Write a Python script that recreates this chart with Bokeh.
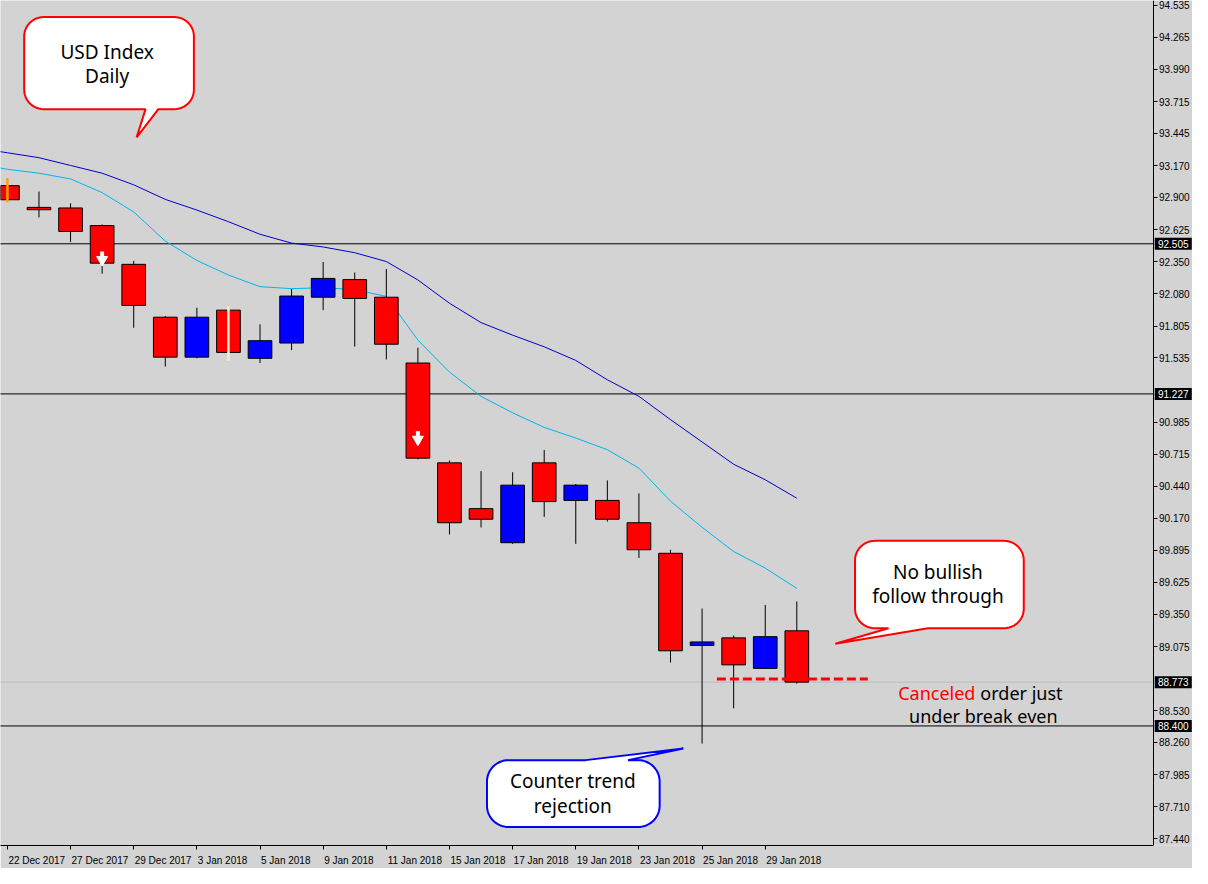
import math
from bokeh.plotting import figure
from bokeh.models import Range1d, FixedTicker, PrintfTickFormatter
from bokeh.core.properties import value
from bokeh.embed import file_html
from bokeh.resources import INLINE

# ---------------- data ----------------
dates = ["22 Dec 2017", "26 Dec 2017", "27 Dec 2017", "28 Dec 2017", "29 Dec 2017",
         "2 Jan 2018", "3 Jan 2018", "4 Jan 2018", "5 Jan 2018", "8 Jan 2018",
         "9 Jan 2018", "10 Jan 2018", "11 Jan 2018", "12 Jan 2018", "15 Jan 2018",
         "16 Jan 2018", "17 Jan 2018", "18 Jan 2018", "19 Jan 2018", "22 Jan 2018",
         "23 Jan 2018", "24 Jan 2018", "25 Jan 2018", "26 Jan 2018", "29 Jan 2018",
         "30 Jan 2018"]
opens = [93.00, 92.815, 92.81, 92.66, 92.33, 91.88, 91.54, 91.94, 91.53, 91.66,
         92.05, 92.20, 92.05, 91.49, 90.64, 90.25, 89.96, 90.64, 90.32, 90.32,
         90.13, 89.87, 89.085, 89.15, 88.89, 89.21]
highs = [93.06, 92.95, 92.85, 92.67, 92.36, 91.89, 91.96, 91.98, 91.82, 92.12,
         92.35, 92.26, 92.29, 91.62, 90.66, 90.57, 90.56, 90.75, 90.46, 90.49,
         90.38, 89.90, 89.40, 89.17, 89.43, 89.46]
lows = [92.86, 92.73, 92.52, 92.25, 91.79, 91.46, 91.53, 91.50, 91.49, 91.60,
        91.94, 91.63, 91.52, 90.67, 90.03, 90.09, 89.95, 90.18, 89.95, 90.14,
        89.83, 88.94, 88.25, 88.55, 88.89, 88.76]
closes = [92.88, 92.795, 92.61, 92.34, 91.98, 91.54, 91.88, 91.58, 91.68, 92.06,
          92.21, 92.04, 91.65, 90.68, 90.13, 90.16, 90.45, 90.31, 90.45, 90.16,
          89.90, 89.04, 89.115, 88.92, 89.16, 88.773]
# moving averages, starting one bar before the first visible candle
ma_slow = [93.321, 93.280, 93.238, 93.172, 93.106, 93.007, 92.883, 92.792, 92.693,
           92.586, 92.511, 92.478, 92.429, 92.354, 92.197, 91.999, 91.834, 91.727,
           91.628, 91.512, 91.347, 91.206, 91.008, 90.818, 90.628, 90.496, 90.339]
ma_fast = [93.189, 93.139, 93.106, 93.057, 92.941, 92.776, 92.528, 92.363, 92.239,
           92.140, 92.123, 92.131, 92.115, 92.057, 91.685, 91.413, 91.206, 91.066,
           90.942, 90.851, 90.752, 90.595, 90.314, 90.091, 89.885, 89.744, 89.571]
levels = [92.505, 91.227, 88.400]
last_close = 88.773
order_level = 88.80
signal_bars = [3, 13]
signal_prices = [92.39, 90.86]
y_ticks = [94.535, 94.265, 93.990, 93.715, 93.445, 93.170, 92.900, 92.625, 92.350,
           92.080, 91.805, 91.535, 90.985, 90.715, 90.440, 90.170, 89.895, 89.625,
           89.350, 89.075, 88.530, 88.260, 87.985, 87.710, 87.440]

# ---------------- layout helpers (reference pixel -> data) ----------------
BAR_PX = 32.0
X0_PX = 7.0
PX_PER_UNIT = 121.07


def X(px):
    return (px - X0_PX) / BAR_PX


def Y(py):
    return 94.535 - (py - 5.0) / PX_PER_UNIT


BG = "#D3D3D3"
W, H = 1192, 868
X_AX = X(1168)          # where the price scale sits
p = figure(width=W, height=H, x_range=Range1d(X(0), X(1208)),
           y_range=Range1d(Y(871), Y(0)), y_axis_location="right",
           output_backend="svg", toolbar_location=None,
           background_fill_color=BG, border_fill_color=BG,
           min_border_left=0, min_border_top=0, min_border_right=0,
           min_border_bottom=0, outline_line_color=None)
p.grid.visible = False

AX_FONT = "Liberation Sans"
AX_SIZE = 10

# y axis (price scale drawn at the right edge of the chart area)
ya = p.yaxis[0]
ya.fixed_location = X_AX
ya.ticker = FixedTicker(ticks=y_ticks, minor_ticks=[])
ya.formatter = PrintfTickFormatter(format="%.3f")
ya.axis_line_color = "black"
ya.major_tick_line_color = "black"
ya.major_tick_out = 4
ya.major_tick_in = 0
ya.minor_tick_line_color = None
ya.major_label_standoff = 2
ya.major_label_text_font = AX_FONT
ya.major_label_text_font_size = f"{AX_SIZE}px"
ya.major_label_text_color = "black"

# x axis: labels start at the candle (MT4 style)
cw = {"D": .722, "J": .5, "e": .556, "c": .5, "a": .556, "n": .556, " ": .278}


def text_w(t):
    return sum(cw.get(ch, .556) for ch in t) * AX_SIZE


n = len(dates)
idx = list(range(n))
lab_idx = idx[::2]
bar_px_my = W / (X(1208) - X(0))
major = []
overrides = {}
for i in lab_idx:
    t = i + (text_w(dates[i]) / 2 + 1) / bar_px_my
    major.append(t)
    overrides[t] = dates[i]
xa = p.xaxis[0]
xa.bounds = (X(0), X_AX)
xa.ticker = FixedTicker(ticks=major, minor_ticks=[float(i) for i in lab_idx])
xa.major_label_overrides = overrides
xa.axis_line_color = "black"
xa.major_tick_line_color = None
xa.minor_tick_line_color = "black"
xa.minor_tick_out = 4
xa.minor_tick_in = 0
xa.major_label_standoff = 3
xa.major_label_text_font = AX_FONT
xa.major_label_text_font_size = f"{AX_SIZE}px"
xa.major_label_text_color = "black"

# horizontal levels (up to the price scale)
nl = len(levels)
p.segment(x0=[X(-20)] * nl, x1=[X_AX] * nl, y0=levels, y1=levels,
          line_color="black", line_width=1)
p.segment(x0=[X(-20)], x1=[X_AX], y0=[last_close], y1=[last_close],
          line_color="#BDBDBD", line_width=1)

# moving averages
ma_x = [i - 1 for i in range(len(ma_slow))]
p.line(ma_x, ma_slow, line_color="#0000C8", line_width=1)
p.line(ma_x, ma_fast, line_color="#00B4F0", line_width=1)

# candles
tops = [max(o, c) for o, c in zip(opens, closes)]
bots = [min(o, c) for o, c in zip(opens, closes)]
cols = ["#0000FF" if c > o else "#FF0000" for o, c in zip(opens, closes)]
p.segment(x0=idx, y0=lows, x1=idx, y1=highs, line_color="black", line_width=1)
p.vbar(x=idx, width=0.75, top=tops, bottom=bots, fill_color=cols,
       line_color="black", line_width=1)
# highlighted wicks drawn over bodies
special = {0: "#FFA500", 7: "#FBEBCB"}
for i, c in special.items():
    p.segment(x0=[i], y0=[lows[i]], x1=[i], y1=[highs[i]], line_color=c, line_width=2.5)

# signal arrows
du = 1.0 / PX_PER_UNIT
p.segment(x0=signal_bars, x1=signal_bars,
          y0=[s + 6 * du for s in signal_prices], y1=[s - 1 * du for s in signal_prices],
          line_color="white", line_width=4)
p.scatter(x=signal_bars, y=[s - 2.5 * du for s in signal_prices],
          marker="inverted_triangle", size=11, fill_color="white", line_color="white")

# canceled order level
p.segment(x0=[X(726)], x1=[X(879)], y0=[order_level], y1=[order_level],
          line_color="#FF0000", line_width=3, line_dash="9 4")

# price boxes on the scale, drawn above the axis labels
box_vals = levels + [last_close]
nb = len(box_vals)
p.rect(x=[X(1188.5)] * nb, y=box_vals, width=37, height=12, width_units="screen",
       height_units="screen", fill_color="black", line_color=None, level="overlay")
p.text(x=[X(1173)] * nb, y=box_vals, text=[f"{v:.3f}" for v in box_vals],
       text_color="white", text_font=value(AX_FONT), text_font_size=f"{AX_SIZE}px",
       text_baseline="middle", text_align="left", level="overlay")


# speech bubbles
def bubble(x0, y0, x1, y1, r, edge, base_a, base_b, tip):
    pts = []

    def arc(cx, cy, a0, a1):
        for k in range(13):
            a = math.radians(a0 + (a1 - a0) * k / 12)
            pts.append((cx + r * math.cos(a), cy + r * math.sin(a)))

    arc(x0 + r, y0 + r, 180, 270)
    if edge == "top":
        pts += [(base_a, y0), tip, (base_b, y0)]
    arc(x1 - r, y0 + r, 270, 360)
    arc(x1 - r, y1 - r, 0, 90)
    if edge == "bottom":
        pts += [(base_b, y1), tip, (base_a, y1)]
    arc(x0 + r, y1 - r, 90, 180)
    return [X(a) for a, b in pts], [Y(b) for a, b in pts]


bx, by = bubble(24, 17, 196, 112, 20, "bottom", 147, 160, (138, 141))
p.patch(bx, by, fill_color="white", line_color="#FF0000", line_width=2)
bx, by = bubble(866, 557, 1037, 647, 20, "bottom", 900, 940, (846, 663))
p.patch(bx, by, fill_color="white", line_color="#FF0000", line_width=2)
bx, by = bubble(493, 783, 668, 852, 22, "top", 593, 636, (692, 771))
p.patch(bx, by, fill_color="white", line_color="#0000FF", line_width=2)

FONT = value("Noto Sans")
p.text(x=[X(108), X(108), X(950), X(950), X(580), X(580)],
       y=[Y(53), Y(78), Y(589), Y(614), Y(805), Y(830)],
       text=["USD Index", "Daily", "No bullish", "follow through", "Counter trend", "rejection"],
       text_font=FONT, text_font_size="19px", text_align="center",
       text_baseline="middle", text_color="black")
p.text(x=[X(988)], y=[Y(714)], text=["Canceled"], text_font=FONT, text_font_size="18px",
       text_align="right", text_baseline="middle", text_color="#FF0000")
p.text(x=[X(993)], y=[Y(714)], text=["order just"], text_font=FONT, text_font_size="18px",
       text_align="left", text_baseline="middle", text_color="black")
p.text(x=[X(996)], y=[Y(737)], text=["under break even"], text_font=FONT,
       text_font_size="18px", text_align="center", text_baseline="middle",
       text_color="black")

open("out.html", "w").write(file_html(p, INLINE))
